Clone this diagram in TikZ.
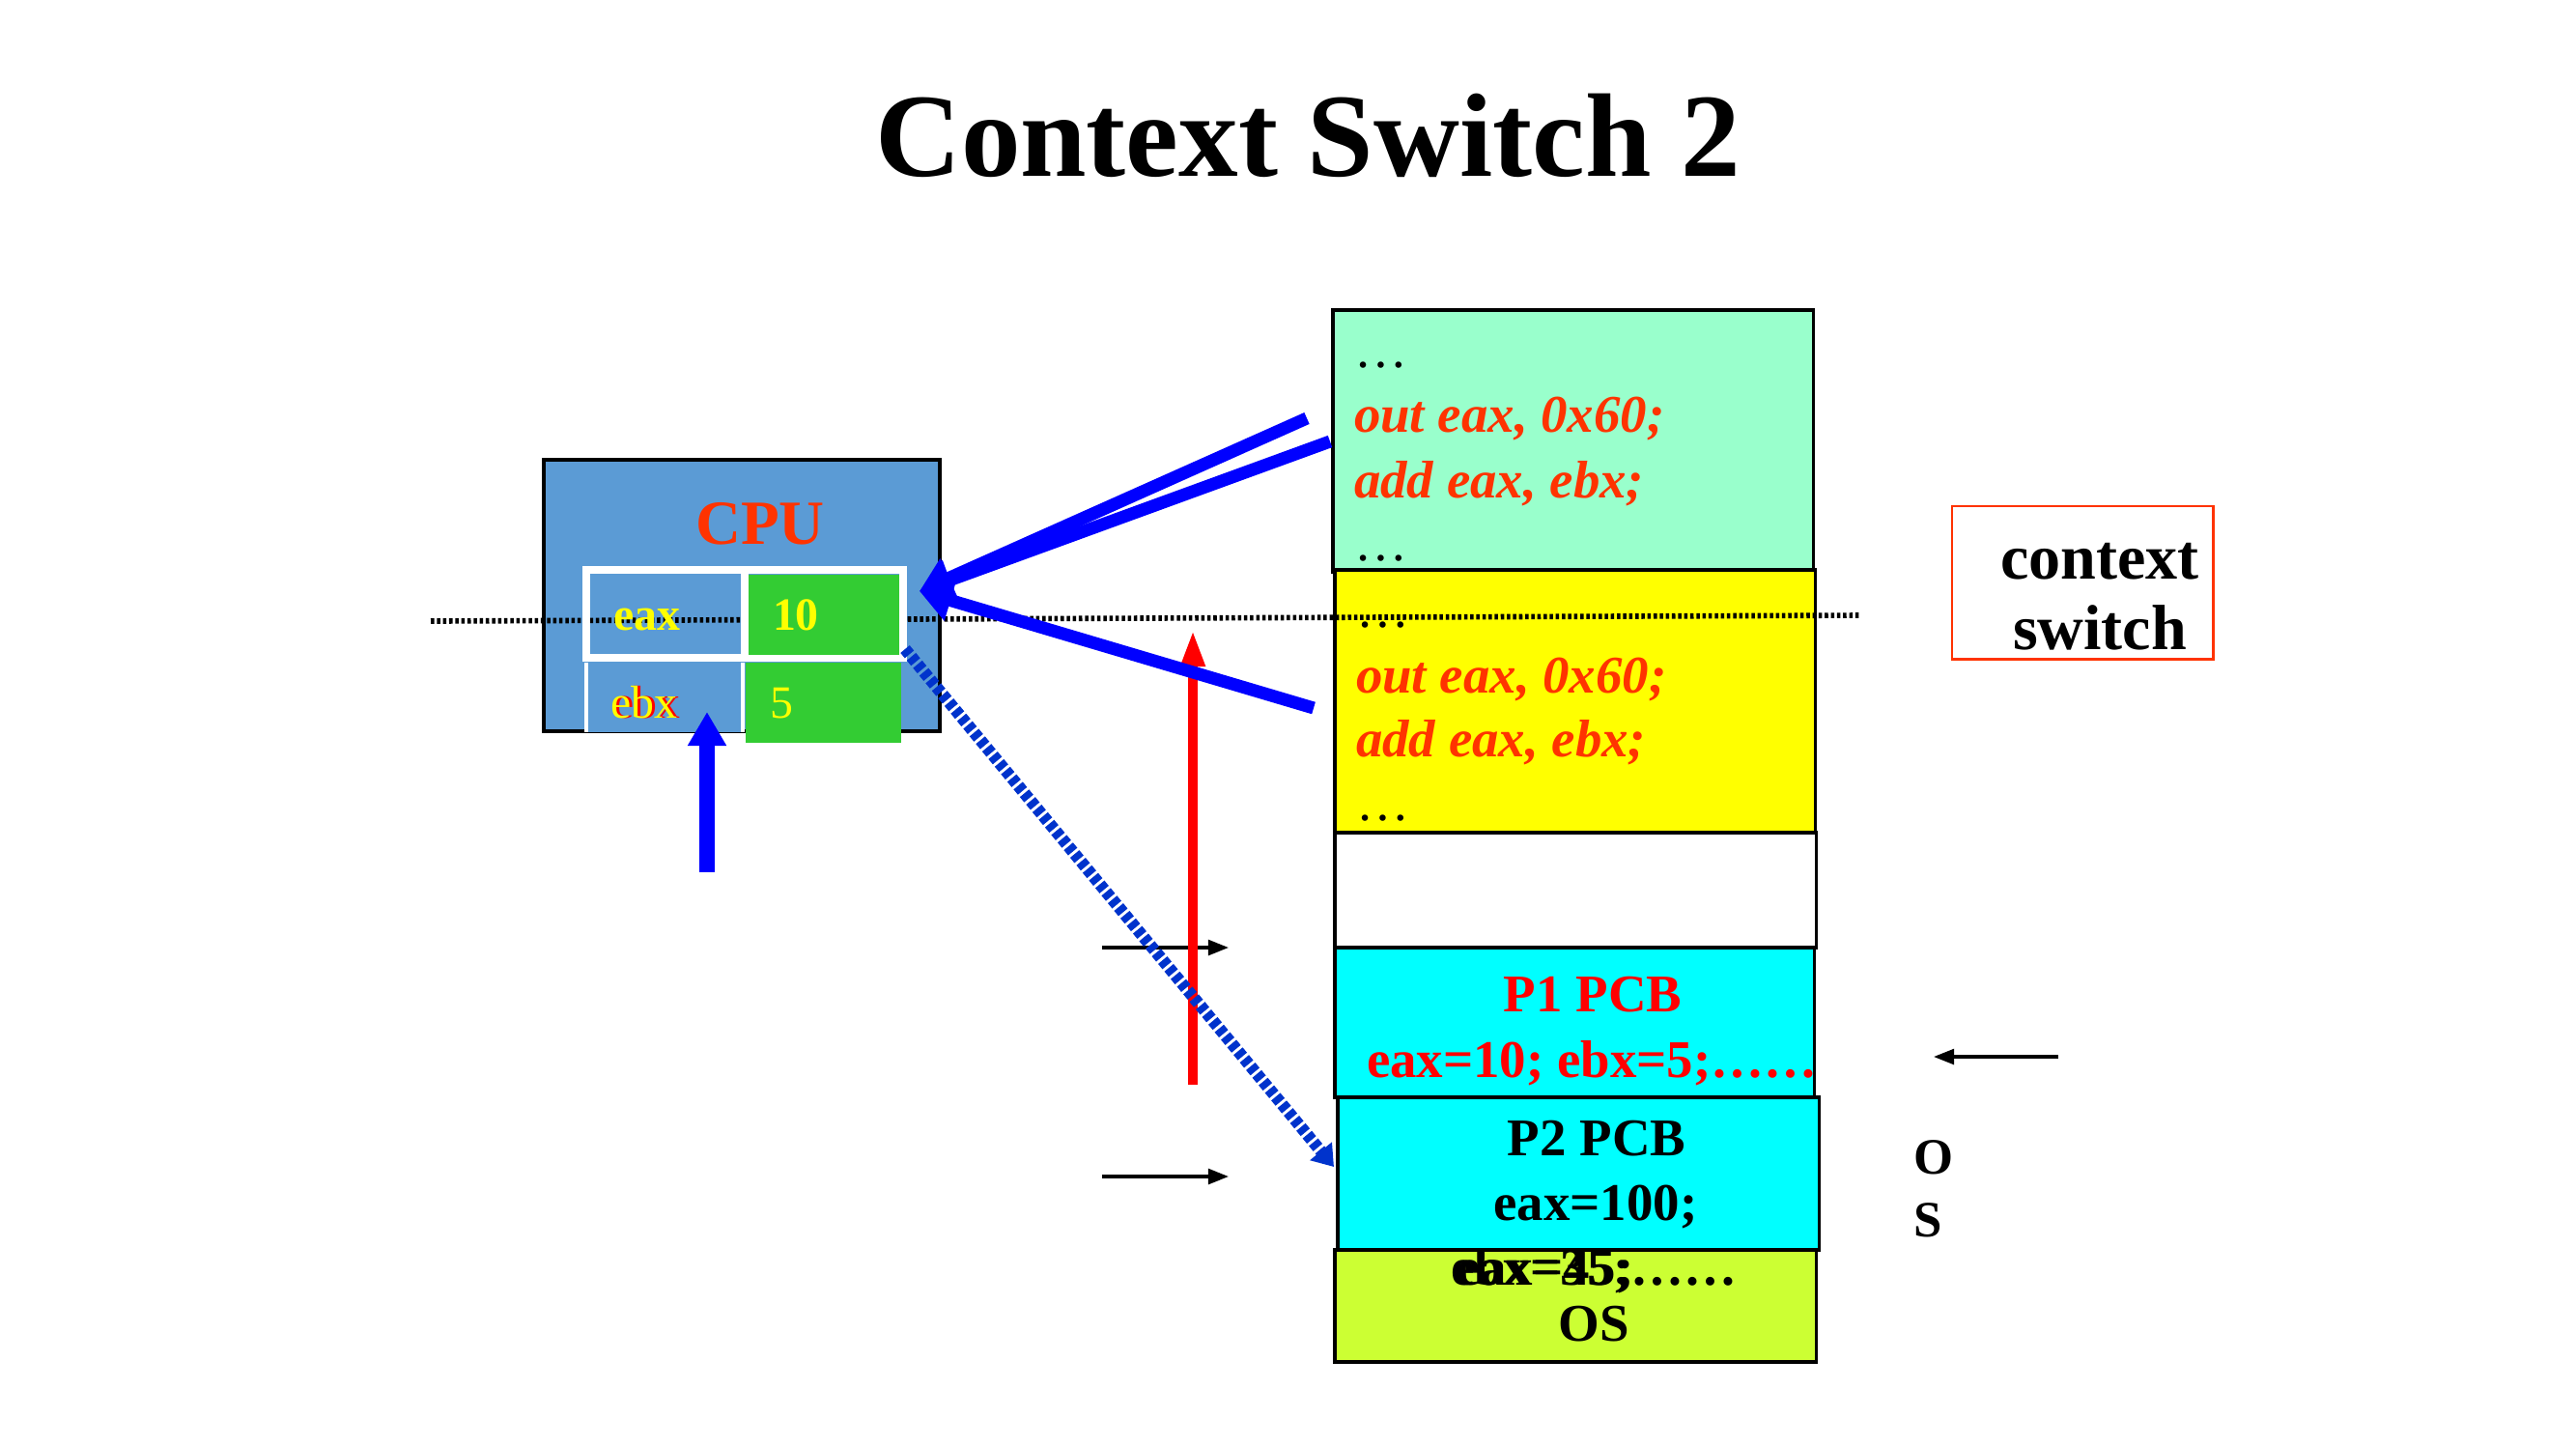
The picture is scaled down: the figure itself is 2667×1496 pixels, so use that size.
\documentclass[tikz,border=0pt]{standalone}
\usepackage{fontspec}
\setmainfont{Liberation Serif}
\usepackage{tikz}
\usepackage{xcolor}
\usetikzlibrary{arrows.meta, positioning}

\definecolor{cpublue}{RGB}{91,155,213}
\definecolor{reggreen}{RGB}{51,204,51}
\definecolor{codered}{RGB}{255,51,0}
\definecolor{mint}{RGB}{153,255,204}
\definecolor{oslime}{RGB}{204,255,51}
\definecolor{dashblue}{RGB}{0,51,204}
\definecolor{pcbcyan}{RGB}{0,255,255}
\definecolor{progyellow}{RGB}{255,255,0}
\definecolor{pureblue}{RGB}{0,0,255}
\definecolor{purered}{RGB}{255,0,0}

\begin{document}
\begin{tikzpicture}[x=0.01cm, y=-0.01cm,
    box/.style={draw, line width=1pt, inner sep=0pt, outer sep=0pt, anchor=north west},
    cell/.style={inner sep=0pt, outer sep=0pt, anchor=north west},
    txt/.style={inner sep=0pt, outer sep=0pt, anchor=base west},
    ctxt/.style={inner sep=0pt, outer sep=0pt, anchor=base},
    codefont/.style={text=codered, font=\fontsize{15.6}{18}\selectfont\bfseries\itshape},
    boxfont/.style={font=\fontsize{15.6}{18}\selectfont\bfseries},
    regfont/.style={text=progyellow, font=\fontsize{13.6}{16}\selectfont\bfseries},
    bigfont/.style={font=\fontsize{18.8}{22}\selectfont\bfseries},
    fanarrow/.style={pureblue, line width=3.7pt, -{Triangle[length=9.5pt,width=12pt]}},
    thinarrow/.style={line width=0.9pt, -{Triangle[length=6pt,width=4.5pt]}}]
    \useasboundingbox (0,0) rectangle (2667,1496);

    % Title
    \node[ctxt, font=\fontsize{35}{42}\selectfont\bfseries] (title) at (1354,182) {Context Switch 2};

    % Memory column
    \node[box, fill=mint, minimum width=4.97cm, minimum height=2.71cm] (prog1) at (1380,321) {};
    \node[txt, font=\fontsize{15.6}{18}\selectfont] (p1dots1) at (1402,380) {…};
    \node[txt, codefont] (p1out) at (1402,447) {out eax, 0x60;};
    \node[txt, codefont] (p1add) at (1402,515) {add eax, ebx;};
    \node[txt, font=\fontsize{15.6}{18}\selectfont] (p1dots2) at (1402,580) {…};

    \node[box, fill=progyellow, minimum width=4.97cm, minimum height=2.72cm] (prog2) at (1382,590) {};
    \node[txt, font=\fontsize{15.6}{18}\selectfont] (p2dots1) at (1404,649) {…};
    \node[txt, codefont] (p2out) at (1404,717) {out eax, 0x60;};
    \node[txt, codefont] (p2add) at (1404,783) {add eax, ebx;};
    \node[txt, font=\fontsize{15.6}{18}\selectfont] (p2dots2) at (1404,849) {…};

    \node[box, fill=white, minimum width=4.98cm, minimum height=1.19cm] (free) at (1382,862) {};

    \node[box, fill=pcbcyan, minimum width=4.96cm, minimum height=1.55cm] (pcb1) at (1382,981) {};
    \node[ctxt, boxfont, text=purered] (pcb1name) at (1649,1047) {P1 PCB};
    \node[txt, boxfont, text=purered] (pcb1regs) at (1415,1115) {eax=10; ebx=5;……};

    \node[box, fill=oslime, minimum width=4.98cm, minimum height=1.16cm] (os) at (1382,1294) {};
    \node[txt, boxfont] (osregs) at (1502,1330) {ebx=35;……};
    \node[txt, boxfont] (osregsb) at (1508,1330) {eax=45;};
    \node[ctxt, boxfont] (osname) at (1650,1388) {OS};

    \node[box, fill=pcbcyan, minimum width=4.98cm, minimum height=1.58cm] (pcb2) at (1385,1136) {};
    \node[ctxt, boxfont] (pcb2name) at (1653,1196) {P2 PCB};
    \node[ctxt, boxfont] (pcb2regs) at (1652,1263) {eax=100;};

    % CPU
    \node[box, fill=cpublue, minimum width=4.1cm, minimum height=2.81cm] (cpu) at (563,476) {};
    \node[ctxt, text=codered, font=\fontsize{18.5}{22}\selectfont\bfseries] (cputxt) at (787,563) {CPU};

    % Dotted line
    \coordinate (dotl) at (446,643);
    \coordinate (dotr) at (1927,637);
    \draw[line width=1.6pt, dash pattern=on 1pt off 0.8pt] (dotl) -- (dotr);

    % Registers
    \draw[white, line width=2.2pt] (607,590) rectangle (935,681);
    \draw[white, line width=2.2pt] (771,590) -- (771,681);
    \node[cell, fill=reggreen, minimum width=1.56cm, minimum height=0.83cm] (eaxval) at (775,595) {};
    \node[cell, fill=cpublue, minimum width=1.62cm, minimum height=0.72cm] (ebxcell) at (607,686) {};
    \draw[white, line width=1pt] (ebxcell.north west) -- (ebxcell.south west);
    \draw[white, line width=1pt] (ebxcell.north east) -- (ebxcell.south east);
    \node[cell, fill=reggreen, minimum width=1.61cm, minimum height=0.83cm] (ebxval) at (772,686) {};
    \node[txt, regfont] (eaxtxt) at (635,652) {eax};
    \node[txt, regfont] (eaxnum) at (800,652) {10};
    \node[txt, text=purered, font=\fontsize{13.6}{16}\selectfont] (ebxshade) at (635,743) {ebx};
    \node[txt, text=progyellow, font=\fontsize{13.6}{16}\selectfont] (ebxtxt) at (632,743) {ebx};
    \node[txt, text=progyellow, font=\fontsize{13.6}{16}\selectfont] (ebxnum) at (797,743) {5};

    % Context switch label
    \node[box, draw=codered, line width=0.8pt, minimum width=2.7cm, minimum height=1.58cm] (ctxbox) at (2021,524) {};
    \node[ctxt, bigfont] (ctxa) at (2174,599) {context};
    \node[ctxt, bigfont] (ctxb) at (2174,672) {switch};

    % OS letters
    \node[ctxt, font=\fontsize{15}{18}\selectfont\bfseries] (oso) at (2002,1215) {O};
    \node[ctxt, font=\fontsize{15}{18}\selectfont\bfseries] (oss) at (1996,1280) {S};

    % Small arrows
    \coordinate (osarr0) at (2131,1094);
    \coordinate (osarr1) at (2002,1094);
    \draw[thinarrow] (osarr0) -- (osarr1);
    \coordinate (pcb1arr0) at (1141,981);
    \coordinate (pcb1arr1) at (1272,981);
    \draw[thinarrow] (pcb1arr0) -- (pcb1arr1);
    \coordinate (pcb2arr0) at (1141,1218);
    \coordinate (pcb2arr1) at (1272,1218);
    \draw[thinarrow] (pcb2arr0) -- (pcb2arr1);

    % Red arrow
    \coordinate (red0) at (1235,1123);
    \coordinate (red1) at (1235,652);
    \draw[purered, line width=3pt, -{Triangle[length=10.8pt,width=6.6pt]}] (red0) -- (red1);

    % Blue arrows
    \coordinate (fantip) at (952,612);
    \coordinate (fan1) at (1353,433);
    \coordinate (fan2) at (1377,457);
    \coordinate (fan3) at (1360,733);
    \draw[fanarrow] (fan1) -- (fantip);
    \draw[fanarrow] (fan2) -- (fantip);
    \draw[fanarrow] (fan3) -- (fantip);

    \coordinate (up0) at (732,903);
    \coordinate (up1) at (732,737);
    \draw[pureblue, line width=4.8pt, -{Triangle[length=10pt,width=10.8pt]}] (up0) -- (up1);

    % Save to P2 PCB
    \coordinate (save0) at (937,672);
    \coordinate (save1) at (1381,1208);
    \draw[dashblue, line width=3.5pt, dash pattern=on 2pt off 0.9pt, -{Triangle[length=6pt,width=8pt]}] (save0) -- (save1);

\end{tikzpicture}
\end{document}
